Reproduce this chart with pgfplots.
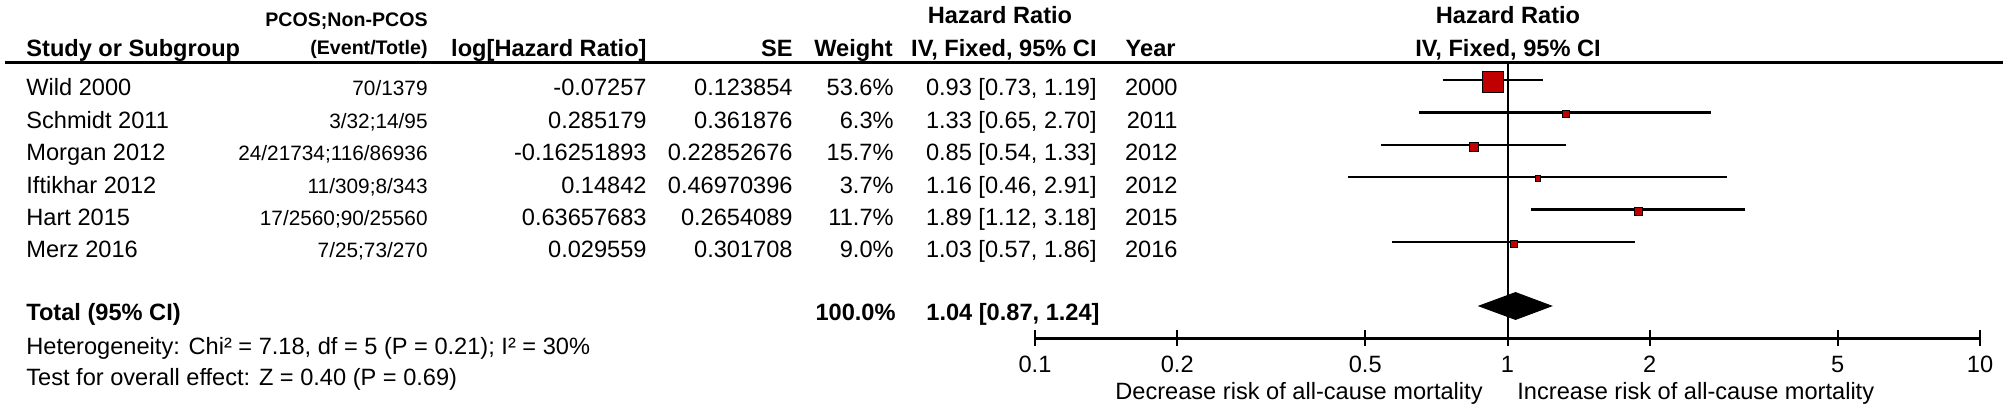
\documentclass[border=0pt]{standalone}
\usepackage{fontspec}
\setmainfont{Liberation Sans}
\usepackage{pgfplots}
\pgfplotsset{compat=1.18}
\definecolor{rmred}{RGB}{192,0,0}
\newcommand\fb{\fontsize{11.8}{14}\selectfont}
\newcommand\fh{\fontsize{11.8}{14}\selectfont\bfseries}
\newcommand\fs{\fontsize{10.4}{12}\selectfont}
\newcommand\fsh{\fontsize{9.8}{12}\selectfont\bfseries}
\begin{document}
\begin{tikzpicture}
\useasboundingbox (0pt,0pt) rectangle (1004pt,-205.5pt);
% ---------------- forest plot (data) ----------------
\begin{axis}[
  at={(517.5pt,0pt)}, anchor=north west,
  scale only axis, width=472.5pt, height=205.5pt,
  xmode=log, xmin=0.1, xmax=10, ymin=0, ymax=411, y dir=reverse,
  enlargelimits=false, hide axis, clip=false,
  ci/.style={black, line width=1.2pt, no marks},
  sq/.style={only marks, mark=square*, mark options={draw=none, fill=rmred}},
]
% line of no effect
\addplot[black, line width=1pt, no marks] coordinates {(1,63) (1,346)};
% confidence intervals
\addplot[ci] coordinates {(0.73,80) (1.19,80)};
\addplot[ci] coordinates {(0.65,112.4) (2.70,112.4)};
\addplot[ci] coordinates {(0.54,144.8) (1.33,144.8)};
\addplot[ci] coordinates {(0.46,177.2) (2.91,177.2)};
\addplot[ci] coordinates {(1.12,209.6) (3.18,209.6)};
\addplot[ci] coordinates {(0.57,242) (1.86,242)};
% point estimates (size ~ weight)
\addplot[sq, mark size=5.25pt] coordinates {(0.93,82)};
\addplot[sq, mark size=1.6pt] coordinates {(1.33,114)};
\addplot[sq, mark size=2.25pt] coordinates {(0.85,146.5)};
\addplot[sq, mark size=1.4pt] coordinates {(1.16,178.5)};
\addplot[sq, mark size=2pt] coordinates {(1.89,211)};
\addplot[sq, mark size=1.75pt] coordinates {(1.03,243.5)};
% pooled estimate
\addplot[fill=black, draw=black, line width=0.4pt] coordinates {(0.87,306) (1.04,292.5) (1.24,306) (1.04,319.5)} -- cycle;
\end{axis}
% ---------------- x axis ----------------
\begin{axis}[
  at={(517.5pt,-169pt)}, anchor=south west,
  scale only axis, width=472.5pt, height=10pt,
  xmode=log, xmin=0.1, xmax=10, ymin=0, ymax=1,
  axis x line*=bottom, axis y line=none,
  xtick={0.1,0.2,0.5,1,2,5,10}, xticklabels={0.1,0.2,0.5,1,2,5,10},
  xminorticks=false, tick align=center, major tick length=8pt,
  every tick/.style={black, line width=1pt},
  axis line style={black, line width=1.5pt},
  /pgf/number format/assume math mode=true,
  xticklabel style={font=\fb, anchor=base, yshift=-13pt, inner sep=0pt},
]
\addplot[draw=none] coordinates {(1,0.5)};
\end{axis}
% ---------------- table text ----------------
\begin{scope}[x=0.5pt, y=-0.5pt, every node/.style={inner sep=0pt}]
\draw[line width=1.5pt] (5,63) -- (2003,63);
% headers
\node[anchor=base east, font=\fsh] at (428,27) {PCOS;Non-PCOS};
\node[anchor=base, font=\fh] at (1000,23.5) {Hazard Ratio};
\node[anchor=base, font=\fh] at (1508,23.5) {Hazard Ratio};
\node[anchor=base west, font=\fh] at (26,56.5) {Study or Subgroup};
\node[anchor=base east, font=\fsh] at (428,55) {(Event/Totle)};
\node[anchor=base east, font=\fh] at (647,56.5) {log[Hazard Ratio]};
\node[anchor=base east, font=\fh] at (793,56.5) {SE};
\node[anchor=base east, font=\fh] at (893,56.5) {Weight};
\node[anchor=base east, font=\fh] at (1097,56.5) {IV, Fixed, 95\% CI};
\node[anchor=base east, font=\fh] at (1176,56.5) {Year};
\node[anchor=base, font=\fh] at (1508,56.5) {IV, Fixed, 95\% CI};
% rows
\foreach \yy/\st/\pc/\lg/\se/\w/\hr/\yr in {
  96/Wild 2000/70\slash 1379/-0.07257/0.123854/53.6\%/{0.93 [0.73, 1.19]}/2000,
  128.4/Schmidt 2011/3\slash 32;14\slash 95/0.285179/0.361876/6.3\%/{1.33 [0.65, 2.70]}/2011,
  160.8/Morgan 2012/24\slash 21734;116\slash 86936/-0.16251893/0.22852676/15.7\%/{0.85 [0.54, 1.33]}/2012,
  193.2/Iftikhar 2012/11\slash 309;8\slash 343/0.14842/0.46970396/3.7\%/{1.16 [0.46, 2.91]}/2012,
  225.6/Hart 2015/17\slash 2560;90\slash 25560/0.63657683/0.2654089/11.7\%/{1.89 [1.12, 3.18]}/2015,
  258/Merz 2016/7\slash 25;73\slash 270/0.029559/0.301708/9.0\%/{1.03 [0.57, 1.86]}/2016}
{
  \node[anchor=base west, font=\fb] at (26,\yy) {\st};
  \node[anchor=base east, font=\fs] at (428,\yy) {\pc};
  \node[anchor=base east, font=\fb] at (647,\yy) {\lg};
  \node[anchor=base east, font=\fb] at (793,\yy) {\se};
  \node[anchor=base east, font=\fb] at (894,\yy) {\w};
  \node[anchor=base east, font=\fb] at (1097,\yy) {\hr};
  \node[anchor=base east, font=\fb] at (1178,\yy) {\yr};
}
% total
\node[anchor=base west, font=\fh] at (26,321) {Total (95\% CI)};
\node[anchor=base east, font=\fh] at (896,321) {100.0\%};
\node[anchor=base east, font=\fh] at (1100,321) {1.04 [0.87, 1.24]};
\node[anchor=base west, font=\fb] at (26,355) {Heterogeneity: Chi² = 7.18, df = 5 (P = 0.21); I² = 30\%};
\node[anchor=base west, font=\fb] at (26,386) {Test for overall effect: Z = 0.40 (P = 0.69)};
% axis captions
\node[anchor=base east, font=\fb] at (1483,399) {Decrease risk of all-cause mortality};
\node[anchor=base west, font=\fb] at (1517,399) {Increase risk of all-cause mortality};
\end{scope}
\end{tikzpicture}
\end{document}
